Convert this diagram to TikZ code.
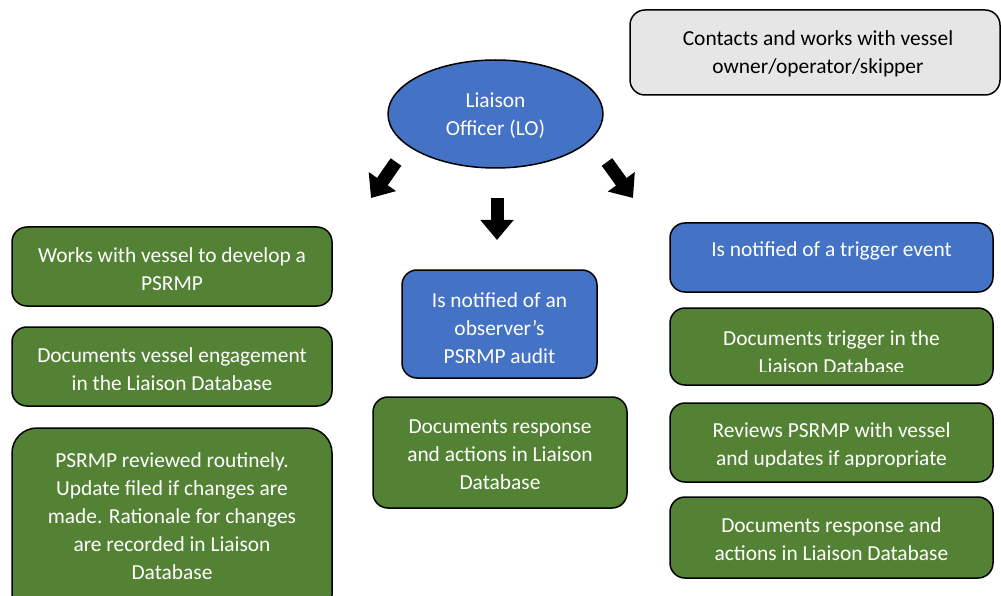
\documentclass[tikz,border=0pt]{standalone}
\usepackage{fontspec}
\setmainfont{Carlito}
\usetikzlibrary{shapes.geometric,arrows.meta}
\definecolor{lgreen}{HTML}{548235}
\definecolor{lblue}{HTML}{4472C4}
\definecolor{lgray}{HTML}{E7E6E6}
\tikzset{
  boxbase/.style={draw=black, line width=1.5pt, rounded corners=15pt, inner sep=0pt},
  gbox/.style={boxbase, fill=lgreen},
  bbox/.style={boxbase, fill=lblue},
  graybox/.style={boxbase, fill=lgray},
  wtxt/.style={text=white, align=center, inner sep=0pt, font=\fontsize{21.4}{28}\selectfont},
  ktxt/.style={text=black, align=center, inner sep=0pt, font=\fontsize{21.4}{28}\selectfont},
  blockarrow/.style={line width=13pt, -{Triangle[width=32pt,length=20pt]}}
}
\begin{document}
\begin{tikzpicture}[x=1pt,y=-1pt]
\useasboundingbox (0,0) rectangle (1001,596);
\clip (0,0) rectangle (1001,596);

% top right gray box
\node[graybox, minimum width=370pt, minimum height=85pt] (top) at (815,52.5) {};
\node[ktxt] (topt) at (818,54) {Contacts and works with vessel\\owner/operator/skipper};

% ellipse
\node[ellipse, draw=black, line width=1.5pt, fill=lblue, minimum width=215pt, minimum height=108pt, inner sep=0pt] (lo) at (495.5,114) {};
\node[wtxt] (lot) at (495.5,116) {Liaison\\Officer (LO)};

% arrows
\coordinate (a1s) at (396,162);
\coordinate (a1e) at (371,198);
\coordinate (a2s) at (497,198);
\coordinate (a2e) at (497,240);
\coordinate (a3s) at (607,162);
\coordinate (a3e) at (633,198);
\draw[blockarrow] (a1s) -- (a1e);
\draw[blockarrow] (a2s) -- (a2e);
\draw[blockarrow] (a3s) -- (a3e);

% left column
\node[gbox, minimum width=320pt, minimum height=79pt] (L1) at (172,266.5) {};
\node[wtxt] (L1t) at (172,269) {Works with vessel to develop a\\PSRMP};
\node[gbox, minimum width=320pt, minimum height=79pt] (L2) at (172,366.5) {};
\node[wtxt] (L2t) at (172,369) {Documents vessel engagement\\in the Liaison Database};
\node[gbox, rounded corners=25pt, minimum width=320pt, minimum height=192pt] (L3) at (172,524) {};
\node[wtxt] (L3t) at (172,516) {PSRMP reviewed routinely.\\Update filed if changes are\\made. Rationale for changes\\are recorded in Liaison\\Database};

% middle column
\node[bbox, minimum width=195pt, minimum height=108pt] (M1) at (499.5,324) {};
\node[wtxt] (M1t) at (499.5,328) {Is notified of an\\observer’s\\PSRMP audit};
\node[gbox, minimum width=254pt, minimum height=111pt] (M2) at (500,452.5) {};
\node[wtxt] (M2t) at (500,455) {Documents response\\and actions in Liaison\\Database};

% right column
\node[bbox, minimum width=323pt, minimum height=69pt] (R0) at (831.5,257.5) {};
\node[wtxt] (R0t) at (831.5,251) {Is notified of a trigger event};
\node[gbox, minimum width=323pt, minimum height=77pt] (R1) at (831.5,346.5) {};
\begin{scope}
\clip (670,308) rectangle (993,371);
\node[wtxt] (R1t) at (831.5,352) {Documents trigger in the\\Liaison Database};
\end{scope}
\node[gbox, minimum width=323pt, minimum height=79pt] (R2) at (831.5,442.5) {};
\begin{scope}
\clip (670,403) rectangle (993,466);
\node[wtxt] (R2t) at (831.5,446) {Reviews PSRMP with vessel\\and updates if appropriate};
\end{scope}
\node[gbox, minimum width=323pt, minimum height=81pt] (R3) at (831.5,537.5) {};
\node[wtxt] (R3t) at (831.5,539) {Documents response and\\actions in Liaison Database};
\end{tikzpicture}
\end{document}
